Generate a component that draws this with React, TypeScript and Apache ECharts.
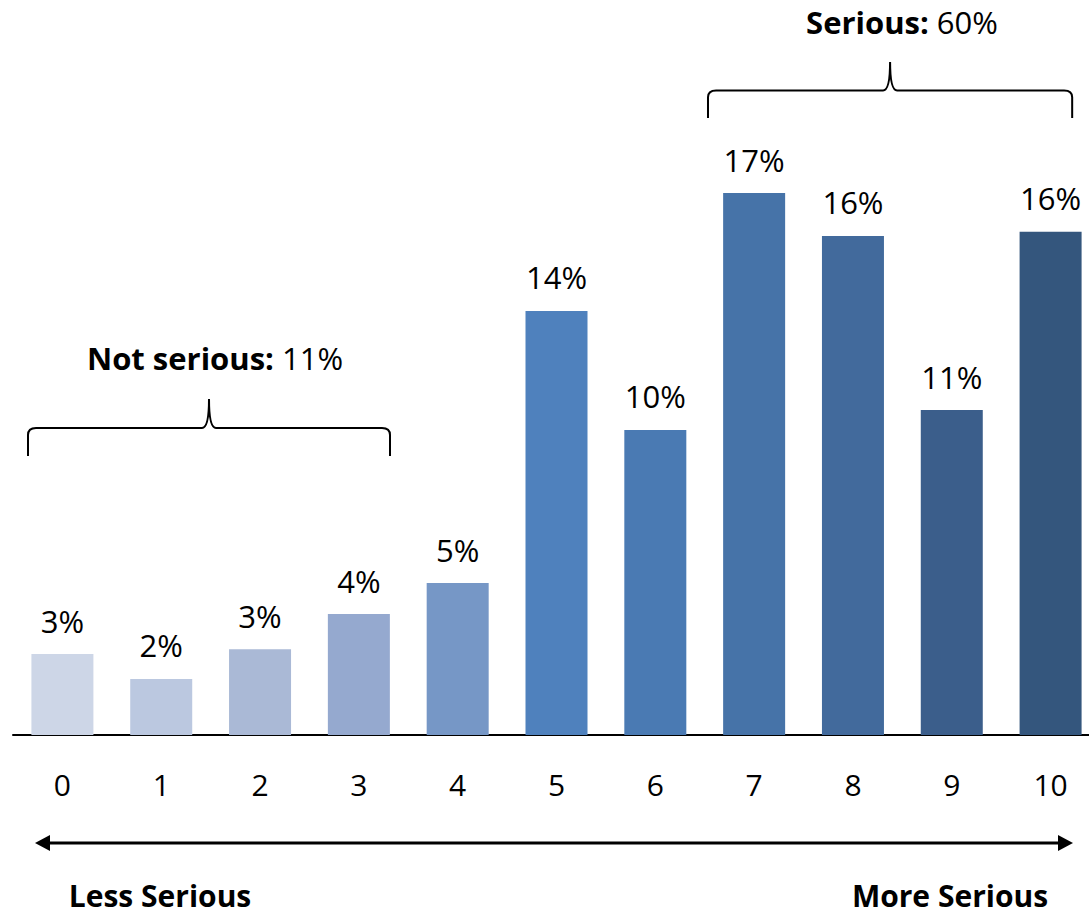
import React, { useEffect, useRef } from "react";
import * as echarts from "echarts";

const categories = ["0", "1", "2", "3", "4", "5", "6", "7", "8", "9", "10"];
const values = [2.61, 1.81, 2.77, 3.9, 4.9, 13.68, 9.84, 17.48, 16.1, 10.48, 16.23];
const valueLabels = ["3%", "2%", "3%", "4%", "5%", "14%", "10%", "17%", "16%", "11%", "16%"];
const barColors = ["#CDD6E7", "#BBC8E0", "#AAB9D6", "#95A9CF", "#7697C6", "#4F81BD", "#4A7AB3", "#4673A8", "#426A9C", "#3B5E8B", "#34567D"];
const groupTexts = [
  { bold: "Not serious:", rest: " 11%" },
  { bold: "Serious:", rest: " 60%" },
];
const endLabels = ["Less Serious", "More Serious"];

const FONT = "'Open Sans', 'Noto Sans', sans-serif";

const W = 362;
const braceD = `M 0 57 L 0 36 Q 0 29 8 29 L ${W / 2 - 7} 29 Q ${W / 2} 29 ${W / 2} 0 Q ${W / 2} 29 ${W / 2 + 7} 29 L ${W - 8} 29 Q ${W} 29 ${W} 36 L ${W} 57`;
echarts.graphic.registerShape("brace", echarts.graphic.extendPath(braceD, {}) as any);

export default function App() {
  const ref = useRef<HTMLDivElement>(null);
  useEffect(() => {
    if (!ref.current) return;
    const chart = echarts.init(ref.current, null, { renderer: "svg" });
    const braceStyle = { fill: "none", stroke: "#000", lineWidth: 2 };
    const richStyles = {
      b: { fontSize: 31, fontWeight: "bold", fontFamily: FONT, fill: "#000" },
      r: { fontSize: 31, fontFamily: FONT, fill: "#000" },
    };
    chart.setOption({
      animation: false,
      backgroundColor: "#fff",
      grid: { left: 13, right: 0, top: 115, bottom: 182, containLabel: false },
      xAxis: {
        type: "category",
        data: categories,
        axisLine: { lineStyle: { color: "#000", width: 2 } },
        axisTick: { show: false },
        axisLabel: { color: "#000", fontSize: 30, fontFamily: FONT, margin: 34 },
      },
      yAxis: { type: "value", min: 0, max: 20, show: false, splitLine: { show: false } },
      series: [
        {
          type: "bar",
          data: values.map((v, i) => ({ value: v, itemStyle: { color: barColors[i] } })),
          barWidth: 62,
          label: {
            show: true,
            position: "top",
            distance: 18,
            color: "#000",
            fontSize: 31,
            fontFamily: FONT,
            formatter: (p: any) => valueLabels[p.dataIndex],
          },
        },
      ],
      graphic: [
        { type: "brace", x: 28, y: 399, style: braceStyle },
        { type: "brace", x: 708, y: 62, scaleX: 364 / W, scaleY: 56 / 57, style: braceStyle },
        {
          type: "text",
          x: 215,
          y: 358,
          style: {
            text: `{b|${groupTexts[0].bold}}{r|${groupTexts[0].rest}}`,
            align: "center",
            verticalAlign: "middle",
            rich: richStyles,
          },
        },
        {
          type: "text",
          x: 902,
          y: 22,
          style: {
            text: `{b|${groupTexts[1].bold}}{r|${groupTexts[1].rest}}`,
            align: "center",
            verticalAlign: "middle",
            rich: richStyles,
          },
        },
        { type: "line", shape: { x1: 45, y1: 843, x2: 1062, y2: 843 }, style: { stroke: "#000", lineWidth: 3 } },
        { type: "polygon", shape: { points: [[35, 843], [50, 835], [50, 851]] }, style: { fill: "#000" } },
        { type: "polygon", shape: { points: [[1073, 843], [1058, 835], [1058, 851]] }, style: { fill: "#000" } },
        {
          type: "text",
          x: 160,
          y: 895,
          style: { text: endLabels[0], align: "center", verticalAlign: "middle", fontSize: 30, lineHeight: 26, fontWeight: "bold", fontFamily: FONT, fill: "#000" },
        },
        {
          type: "text",
          x: 950,
          y: 895,
          style: { text: endLabels[1], align: "center", verticalAlign: "middle", fontSize: 30, lineHeight: 26, fontWeight: "bold", fontFamily: FONT, fill: "#000" },
        },
      ],
    });
    return () => chart.dispose();
  }, []);
  return (
    <div style={{ position: "fixed", left: 0, top: 0, width: 1089, height: 917, overflow: "hidden", background: "#fff" }}>
      <div ref={ref} style={{ width: 1100, height: 917 }} />
    </div>
  );
}
